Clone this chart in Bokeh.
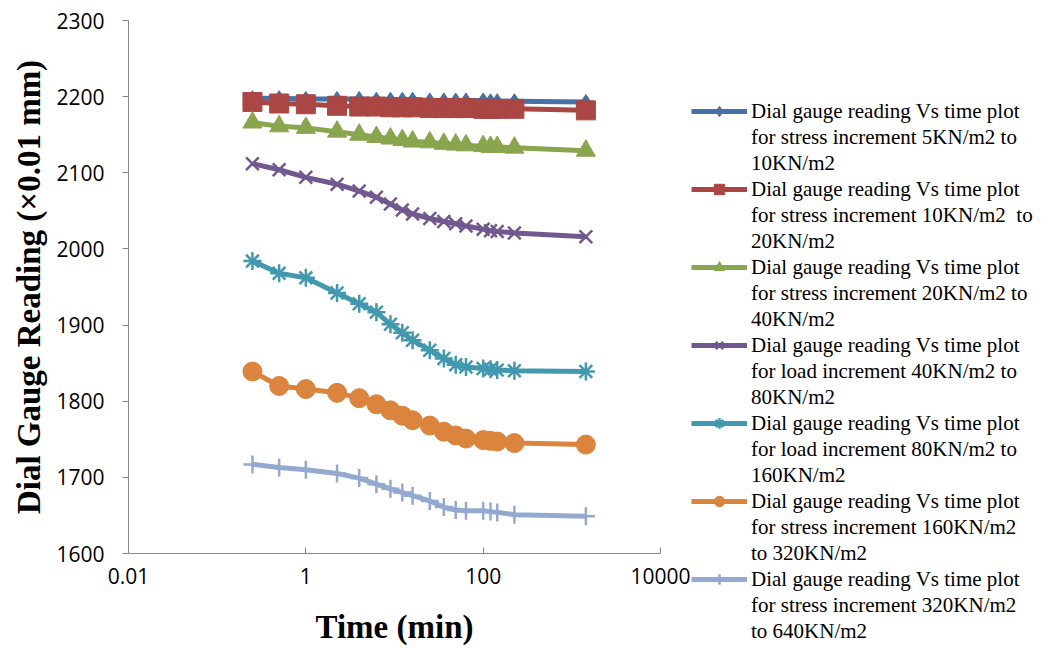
from bokeh.plotting import figure
from bokeh.models import FixedTicker, Legend, LegendItem, Range1d
from bokeh.embed import file_html
from bokeh.resources import INLINE

# ---- data ----
time_min = [0.25, 0.5, 1, 2.25, 4, 6.25, 9, 12.25, 16, 25, 36, 49, 64, 100, 121, 144, 225, 1440]

reading_5_10 = [2198, 2198, 2197, 2197, 2197, 2196, 2196, 2196, 2196, 2195, 2195, 2195, 2195, 2195, 2194, 2194, 2194, 2193]
reading_10_20 = [2193, 2191, 2190, 2188, 2187, 2187, 2186, 2186, 2186, 2185, 2185, 2185, 2185, 2184, 2184, 2184, 2184, 2182]
reading_20_40 = [2166, 2161, 2159, 2154, 2150, 2147, 2145, 2143, 2141, 2140, 2138, 2137, 2136, 2135, 2134, 2134, 2133, 2129]
reading_40_80 = [2112, 2104, 2094, 2085, 2076, 2068, 2059, 2051, 2046, 2040, 2036, 2033, 2030, 2026, 2024, 2023, 2021, 2016]
reading_80_160 = [1984, 1968, 1962, 1942, 1928, 1917, 1901, 1890, 1880, 1867, 1856, 1848, 1845, 1843, 1842, 1841, 1840, 1839]
reading_160_320 = [1839, 1820, 1816, 1811, 1804, 1796, 1788, 1781, 1775, 1768, 1760, 1755, 1751, 1749, 1748, 1747, 1745, 1743]
reading_320_640 = [1717, 1713, 1710, 1705, 1699, 1691, 1685, 1680, 1676, 1669, 1661, 1657, 1656, 1656, 1655, 1654, 1651, 1649]

series_labels = [
    "Dial gauge reading Vs time plot\nfor stress increment 5KN/m2 to\n10KN/m2",
    "Dial gauge reading Vs time plot\nfor stress increment 10KN/m2  to\n20KN/m2",
    "Dial gauge reading Vs time plot\nfor stress increment 20KN/m2 to\n40KN/m2",
    "Dial gauge reading Vs time plot\nfor load increment 40KN/m2 to\n80KN/m2",
    "Dial gauge reading Vs time plot\nfor load increment 80KN/m2 to\n160KN/m2",
    "Dial gauge reading Vs time plot\nfor stress increment 160KN/m2\nto 320KN/m2",
    "Dial gauge reading Vs time plot\nfor stress increment 320KN/m2\nto 640KN/m2",
]

x_ticks = [0.01, 1, 100, 10000]
x_tick_labels = ["0.01", "1", "100", "10000"]
y_ticks = [1600, 1700, 1800, 1900, 2000, 2100, 2200, 2300]

series = [reading_5_10, reading_10_20, reading_20_40, reading_40_80,
          reading_80_160, reading_160_320, reading_320_640]
colors = ["#4572A7", "#AA4643", "#89A54E", "#71588F", "#4198AF", "#DB843D", "#93A9CF"]
markers = ["diamond", "square", "triangle", "x", "asterisk", "circle", "cross"]
msizes = [15, 19, 19, 18, 18, 19, 18]

FRAME_W, FRAME_H = 532, 533
p = figure(frame_width=FRAME_W, frame_height=FRAME_H, x_axis_type="log",
           x_range=Range1d(0.01, 10000), y_range=Range1d(1600, 2300),
           output_backend="svg", toolbar_location=None,
           min_border_left=128, min_border_right=381,
           min_border_top=20, min_border_bottom=95)
p.outline_line_color = None
p.grid.grid_line_color = None
p.background_fill_color = "white"
p.border_fill_color = "white"

# axes
p.xaxis.ticker = FixedTicker(ticks=x_ticks, minor_ticks=[])
p.xaxis.major_label_overrides = {t: s for t, s in zip(x_ticks, x_tick_labels)}
p.yaxis.ticker = FixedTicker(ticks=y_ticks, minor_ticks=[])
for ax in (p.xaxis[0], p.yaxis[0]):
    ax.axis_line_color = "#868686"
    ax.axis_line_width = 1
    ax.major_tick_line_color = "#868686"
    ax.minor_tick_line_color = None
    ax.major_label_text_font = "Open Sans"
    ax.major_label_text_font_size = "21px"
    ax.major_label_text_color = "black"
    ax.axis_label_text_font = "Liberation Serif"
    ax.axis_label_text_font_style = "bold"
    ax.axis_label_text_font_size = "33px"
    ax.axis_label_text_color = "black"
p.xaxis.major_tick_in = 6
p.xaxis.major_tick_out = 0
p.yaxis.major_tick_in = 0
p.yaxis.major_tick_out = 6
p.xaxis.major_label_standoff = 14
p.yaxis.major_label_standoff = 18
p.xaxis.axis_label = "Time (min)"
p.yaxis.axis_label = "Dial Gauge Reading (\u00d70.01 mm)"
p.xaxis.axis_label_standoff = 22
p.yaxis.axis_label_standoff = 6

# one legend row per text line; the first row of each entry carries the glyph
items = []
for ys, col, mk, ms, lab in zip(series, colors, markers, msizes, series_labels):
    r_line = p.line(time_min, ys, line_color=col, line_width=5)
    r_mark = p.scatter(time_min, ys, marker=mk, size=ms, fill_color=col,
                       line_color=col, line_width=2.5 if mk in ("x", "asterisk", "cross") else 1)
    lines = lab.split("\n")
    items.append(LegendItem(label=lines[0], renderers=[r_line, r_mark]))
    for extra in lines[1:]:
        items.append(LegendItem(label=extra, renderers=[]))

ROW_H = 26
FIRST_Y = 111                      # centre of first legend row (canvas px)
TOP_BORDER = 20
leg_top = FIRST_Y - ROW_H / 2 - TOP_BORDER      # relative to frame top
leg_h = ROW_H * len(items)
legend = Legend(items=items, location=(31, int(round(FRAME_H - leg_top - leg_h))))
legend.label_text_font = "Liberation Serif"
legend.label_text_font_size = "21px"
legend.label_text_color = "black"
legend.glyph_width = 56
legend.glyph_height = ROW_H
legend.label_height = ROW_H
legend.label_standoff = 4
legend.spacing = 0
legend.padding = 0
legend.margin = 0
legend.border_line_color = None
legend.background_fill_alpha = 0
p.add_layout(legend, "right")

open("out.html", "w").write(file_html(p, INLINE))
